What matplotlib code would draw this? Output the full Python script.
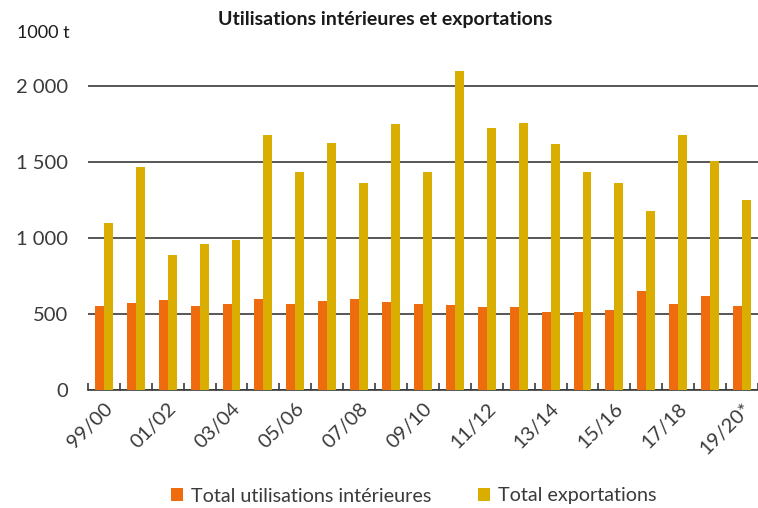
import numpy as np
import matplotlib.pyplot as plt

plt.rcParams['font.family'] = ['Lato', 'DejaVu Sans']

# Data
# ------------------------------------------------------------------------

seasons = ['99/00', '00/01', '01/02', '02/03', '03/04', '04/05', '05/06',
           '06/07', '07/08', '08/09', '09/10', '10/11', '11/12', '12/13',
           '13/14', '14/15', '15/16', '16/17', '17/18', '18/19', '19/20*']

interieures = [553, 575, 592, 553, 566, 599, 566, 586, 599, 579, 566,
               559, 544, 544, 511, 511, 524, 653, 566, 618, 553]

exportations = [1097, 1469, 888, 962, 987, 1675, 1432, 1627, 1362, 1748, 1432,
                2099, 1721, 1754, 1616, 1432, 1360, 1178, 1675, 1507, 1252]

orange = '#EE6C0E'
yellow = '#D9AE00'
grey = '#3A3A3A'

# Plot
# ------------------------------------------------------------------------

fig = plt.figure(figsize=(7.58, 5.08), dpi=100)
ax = fig.add_axes([0.116, 0.2323, 0.884, 0.6583])

x = np.arange(len(seasons))
w = 0.28

ax.bar(x - w / 2, interieures, w, color=orange, zorder=3,
       label='Total utilisations intérieures')
ax.bar(x + w / 2, exportations, w, color=yellow, zorder=3,
       label='Total exportations')

ax.set_xlim(-0.5, len(seasons) - 0.5)
ax.set_ylim(0, 2200)

ax.set_yticks([0, 500, 1000, 1500, 2000])
ax.set_yticklabels(['0', '500', '1 000', '1 500', '2 000'])
ax.yaxis.grid(True, color=grey, linewidth=1.2, zorder=0)
ax.tick_params(axis='y', length=0, labelsize=14.5, colors=grey, pad=14)

ax.set_xticks(x[::2])
ax.set_xticklabels(seasons[::2], rotation=45, ha='right', va='top',
                   rotation_mode='anchor')
ax.set_xticks(np.arange(len(seasons) + 1) - 0.5, minor=True)
ax.tick_params(axis='x', which='major', length=0, labelsize=14.5,
               colors=grey, pad=7)
ax.tick_params(axis='x', which='minor', length=5, direction='in',
               color=grey, width=1.2)

for side in ['left', 'right', 'top']:
    ax.spines[side].set_visible(False)
ax.spines['bottom'].set_color(grey)
ax.spines['bottom'].set_linewidth(1.2)

fig.text(0.508, 1 - 20 / 508, 'Utilisations intérieures et exportations',
         ha='center', va='center', fontsize=14, fontweight='bold',
         color='#1a1a1a')
fig.text(0.022, 1 - 33 / 508, '1000 t', ha='left', va='center',
         fontsize=13, color='#1a1a1a')

fig.legend(loc='center', bbox_to_anchor=(0.546, 1 - 496 / 508), ncol=2,
           frameon=False, fontsize=14.2, handlelength=0.6, handleheight=0.6,
           columnspacing=2.4, handletextpad=0.4, labelcolor=grey)

fig.savefig('out.png', dpi=100)
